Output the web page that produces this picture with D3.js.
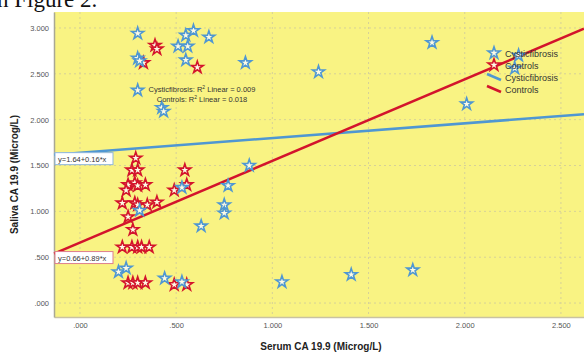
<!DOCTYPE html>
<html>
<head>
<meta charset="utf-8">
<script src="https://cdn.jsdelivr.net/npm/d3@7"></script>
<style>
  body { margin: 0; background: #fff; }
  svg { display: block; font-family: Arial, "Liberation Sans", sans-serif; }
</style>
</head>
<body>
<div id="chart"></div>
<script>
// Cysticfibrosis group (serum, saliva)
const cfSerum = [0.30, 0.30, 0.31, 0.30, 0.425, 0.435, 0.55, 0.59, 0.51, 0.56, 0.55, 0.67, 0.86, 1.24, 1.83, 2.01,
  2.28, 2.26, 0.88, 0.77, 0.75, 0.75, 0.63, 0.53, 0.31, 0.20, 0.24, 0.44, 0.53, 1.05, 1.41, 1.73]
const cfSaliva = [2.94, 2.67, 2.64, 2.32, 2.13, 2.09, 2.92, 2.97, 2.80, 2.80, 2.65, 2.90, 2.62, 2.52, 2.84, 2.17,
  2.70, 2.56, 1.50, 1.28, 1.07, 0.98, 0.84, 1.26, 1.01, 0.34, 0.38, 0.27, 0.23, 0.23, 0.31, 0.36]

// Controls group
const ctrlSerum = [0.39, 0.40, 0.33, 0.61, 0.29, 0.27, 0.30, 0.25, 0.285, 0.30, 0.34, 0.24, 0.22, 0.285, 0.30, 0.35, 0.40,
  0.25, 0.275, 0.545, 0.555, 0.49, 0.22, 0.27, 0.30, 0.32, 0.36, 0.25, 0.275, 0.30, 0.34, 0.49, 0.555]
const ctrlSaliva = [2.81, 2.77, 2.62, 2.57, 1.58, 1.45, 1.45, 1.29, 1.31, 1.28, 1.29, 1.23, 1.09, 1.09, 1.07, 1.07, 1.10,
  0.94, 0.80, 1.45, 1.29, 1.23, 0.61, 0.61, 0.61, 0.61, 0.61, 0.22, 0.22, 0.22, 0.22, 0.20, 0.20]

// fit lines (intercept, slope) and R2
const fitNames = ['Cysticfibrosis', 'Controls']
const fitIntercept = [1.64, 0.66]
const fitSlope = [0.16, 0.89]
const fitR2 = ['0.009', '0.018']

const xTicks = [0, 0.5, 1, 1.5, 2, 2.5]
const xTickLabels = ['.000', '.500', '1.000', '1.500', '2.000', '2.500']
const yTicks = [0, 0.5, 1, 1.5, 2, 2.5, 3]
const yTickLabels = ['.000', '.500', '1.000', '1.500', '2.000', '2.500', '3.000']

const width = 584, height = 354
const plot = { left: 54, top: 12, right: 584, bottom: 317 }
const blue = '#4f97d2', red = '#d3142c'

const svg = d3.select('#chart').append('svg')
  .attr('width', width)
  .attr('height', height)

// caption fragment cut at the top of the picture
svg.append('text')
  .attr('x', -3).attr('y', 7)
  .attr('font-family', '"Liberation Serif", "DejaVu Serif", serif')
  .attr('font-size', 23)
  .attr('fill', '#111')
  .text('n Figure 2.')

const x = d3.scaleLinear().domain([-0.135, 2.62]).range([plot.left, plot.right])
const y = d3.scaleLinear().domain([-0.152, 3.174]).range([plot.bottom, plot.top])

svg.append('rect')
  .attr('x', plot.left).attr('y', plot.top)
  .attr('width', plot.right - plot.left).attr('height', plot.bottom - plot.top)
  .attr('fill', '#f9f383')

// grid
svg.append('g').selectAll('line').data(xTicks).enter().append('line')
  .attr('x1', d => x(d)).attr('x2', d => x(d))
  .attr('y1', plot.top).attr('y2', plot.bottom)
  .attr('stroke', '#d6d198').attr('stroke-dasharray', '2,3')
svg.append('g').selectAll('line').data(yTicks).enter().append('line')
  .attr('x1', plot.left).attr('x2', plot.right)
  .attr('y1', d => y(d)).attr('y2', d => y(d))
  .attr('stroke', '#d6d198').attr('stroke-dasharray', '2,3')

// axes
const xAxis = d3.axisBottom(x).tickValues(xTicks).tickFormat((d, i) => xTickLabels[i]).tickSize(0).tickPadding(6)
const yAxis = d3.axisLeft(y).tickValues(yTicks).tickFormat((d, i) => yTickLabels[i]).tickSize(0).tickPadding(5)
const gx = svg.append('g').attr('transform', 'translate(0,' + plot.bottom + ')').call(xAxis)
const gy = svg.append('g').attr('transform', 'translate(' + plot.left + ',0)').call(yAxis)
gx.select('.domain').attr('stroke', '#c9c2a2').attr('stroke-width', 1.5)
gy.select('.domain').attr('stroke', '#a9a894').attr('stroke-width', 1.5)
svg.selectAll('.tick text').attr('font-size', 7.5).attr('fill', '#555').attr('font-family', 'Arial, "Liberation Sans", sans-serif')

// axis titles
svg.append('text')
  .attr('transform', 'translate(18,' + ((plot.top + plot.bottom) / 2 + 10) + ') rotate(-90)')
  .attr('text-anchor', 'middle')
  .attr('font-size', 10).attr('font-weight', 'bold').attr('fill', '#222')
  .text('Saliva CA 19.9 (Microg/L)')
svg.append('text')
  .attr('x', 321).attr('y', 350)
  .attr('text-anchor', 'middle')
  .attr('font-size', 10).attr('font-weight', 'bold').attr('fill', '#222')
  .text('Serum CA 19.9 (Microg/L)')

// fit lines
const [x0, x1] = x.domain()
const fitColors = [blue, red]
fitNames.forEach((n, i) => {
  svg.append('line')
    .attr('x1', x(x0)).attr('y1', y(fitIntercept[i] + fitSlope[i] * x0))
    .attr('x2', x(x1)).attr('y2', y(fitIntercept[i] + fitSlope[i] * x1))
    .attr('stroke', fitColors[i]).attr('stroke-width', 2.5)
})

// points
const star = d3.symbol().type(d3.symbolStar).size(44)
function drawStars(xs, ys, color) {
  svg.append('g').selectAll('path')
    .data(xs.map((v, i) => [v, ys[i]]))
    .enter().append('path')
    .attr('d', star)
    .attr('transform', d => 'translate(' + x(d[0]) + ',' + y(d[1]) + ')')
    .attr('fill', '#fdfbe6').attr('stroke', color).attr('stroke-width', 1.6)
}
drawStars(ctrlSerum, ctrlSaliva, red)
drawStars(cfSerum, cfSaliva, blue)

// equation labels at left end of each fit line
fitNames.forEach((n, i) => {
  const ly = y(fitIntercept[i] + fitSlope[i] * x0)
  const g = svg.append('g').attr('transform', 'translate(' + (plot.left + 1) + ',' + (ly - 2) + ')')
  g.append('rect').attr('width', 58).attr('height', 12)
    .attr('fill', '#fff').attr('stroke', i === 0 ? '#8fb7dc' : '#de7f8c').attr('stroke-width', 1)
  g.append('text').attr('x', 3).attr('y', 9)
    .attr('font-size', 7.5).attr('fill', '#333')
    .text('y=' + fitIntercept[i].toFixed(2) + '+' + fitSlope[i].toFixed(2) + '*x')
})

// R2 annotation
fitNames.forEach((n, i) => {
  const t = svg.append('text')
    .attr('x', 202).attr('y', 92 + i * 10)
    .attr('text-anchor', 'middle')
    .attr('font-size', 7.5).attr('fill', '#333')
  t.append('tspan').text(n + ': R')
  t.append('tspan').attr('font-size', 5).attr('dy', -3).text('2')
  t.append('tspan').attr('dy', 3).text(' Linear = ' + fitR2[i])
})

// legend
const legend = svg.append('g').attr('transform', 'translate(486,53)')
fitNames.forEach((n, i) => {
  legend.append('path').attr('d', star)
    .attr('transform', 'translate(8,' + (i * 12) + ')')
    .attr('fill', '#fdfbe6').attr('stroke', fitColors[i]).attr('stroke-width', 1.6)
  legend.append('text').attr('x', 19).attr('y', i * 12 + 3.5)
    .attr('font-size', 9).attr('fill', '#333').text(n)
})
fitNames.forEach((n, i) => {
  const ly = 24 + i * 12
  legend.append('line').attr('x1', 1).attr('y1', ly - 3).attr('x2', 15).attr('y2', ly + 3)
    .attr('stroke', fitColors[i]).attr('stroke-width', 2.5)
  legend.append('text').attr('x', 19).attr('y', ly + 3.5)
    .attr('font-size', 9).attr('fill', '#333').text(n)
})
</script>
</body>
</html>
